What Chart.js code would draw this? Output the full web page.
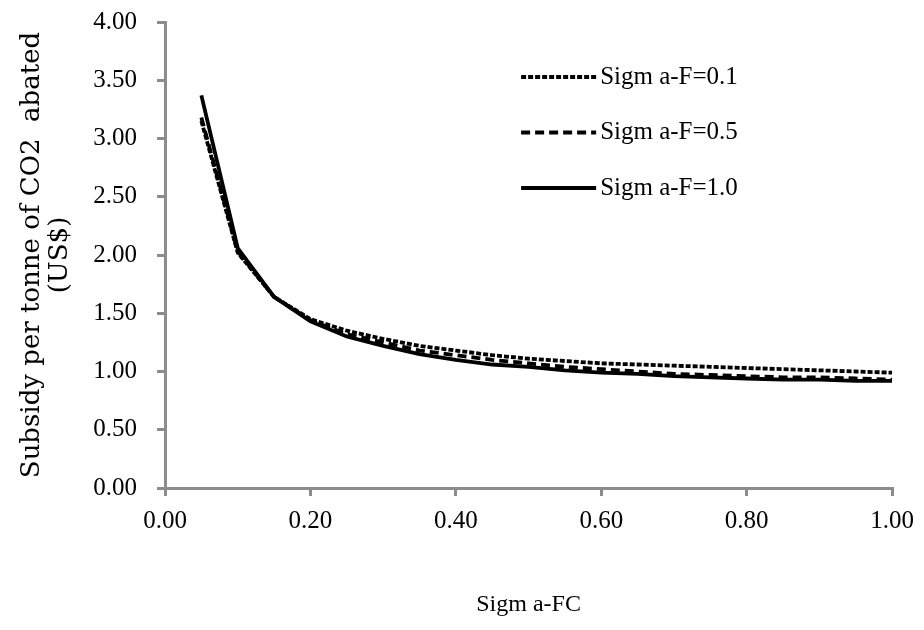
<!DOCTYPE html>
<html>
<head>
<meta charset="utf-8">
<script src="https://cdn.jsdelivr.net/npm/chart.js@4"></script>
<style>
  html, body { margin: 0; padding: 0; background: #fff; }
  #wrap { width: 924px; height: 630px; position: relative; }
</style>
</head>
<body>
<div id="wrap"><canvas id="plot1"></canvas></div>
<script>
// Sigma-FC values (x axis)
const sigmaFC = [0.05, 0.10, 0.15, 0.20, 0.25, 0.30, 0.35, 0.40, 0.45, 0.50,
                 0.55, 0.60, 0.65, 0.70, 0.75, 0.80, 0.85, 0.90, 0.95, 1.00];
// subsidy per tonne of CO2 abated (US$)
const sigmaF01 = [3.15, 2.02, 1.64, 1.45, 1.35, 1.28, 1.22, 1.18, 1.14, 1.11,
                  1.09, 1.07, 1.06, 1.05, 1.04, 1.03, 1.02, 1.01, 1.00, 0.99];
const sigmaF05 = [3.18, 2.03, 1.64, 1.44, 1.32, 1.25, 1.18, 1.14, 1.10, 1.07,
                  1.04, 1.02, 1.00, 0.98, 0.97, 0.96, 0.95, 0.95, 0.94, 0.93];
const sigmaF10 = [3.37, 2.06, 1.64, 1.43, 1.30, 1.22, 1.15, 1.10, 1.06, 1.04,
                  1.01, 0.99, 0.98, 0.96, 0.95, 0.94, 0.93, 0.93, 0.92, 0.92];
const seriesLabels = ['Sigm a-F=0.1', 'Sigm a-F=0.5', 'Sigm a-F=1.0'];

const toPoints = (ys) => sigmaFC.map((x, i) => ({ x: x, y: ys[i] }));

const axisGray = '#8c8c8c';
const serif = "'Liberation Serif', 'Times New Roman', serif";

// legend drawn inside the plot area, top right
const insideLegend = {
  id: 'insideLegend',
  afterDraw(chart) {
    const { ctx, chartArea } = chart;
    const x0 = chartArea.right - 371;
    const x1 = chartArea.right - 296;
    ctx.save();
    chart.data.datasets.forEach((ds, i) => {
      const y = chartArea.top + 55 + i * 55.5;
      ctx.beginPath();
      ctx.setLineDash(ds.borderDash || []);
      ctx.lineWidth = ds.borderWidth;
      ctx.strokeStyle = ds.borderColor;
      ctx.moveTo(x0, y);
      ctx.lineTo(x1, y);
      ctx.stroke();
      ctx.setLineDash([]);
      ctx.fillStyle = '#000';
      ctx.font = '25px ' + serif;
      ctx.textAlign = 'left';
      ctx.textBaseline = 'middle';
      ctx.fillText(ds.label, x1 + 4, y);
    });
    ctx.restore();
  }
};

window.addEventListener("DOMContentLoaded", () => {
  const ctx1 = document.getElementById('plot1')?.getContext('2d');
  if (ctx1) {
    new Chart(ctx1, {
      type: 'line',
      data: {
        datasets: [{
          label: seriesLabels[0],
          data: toPoints(sigmaF01),
          borderColor: '#000',
          borderWidth: 3.8,
          borderDash: [5, 2],
          pointRadius: 0,
          fill: false
        }, {
          label: seriesLabels[1],
          data: toPoints(sigmaF05),
          borderColor: '#000',
          borderWidth: 3.8,
          borderDash: [9, 5],
          pointRadius: 0,
          fill: false
        }, {
          label: seriesLabels[2],
          data: toPoints(sigmaF10),
          borderColor: '#000',
          borderWidth: 3.8,
          pointRadius: 0,
          fill: false
        }]
      },
      options: {
        responsive: true,
        maintainAspectRatio: false,
        animation: false,
        layout: { padding: { top: 22, right: 31, left: 0, bottom: 0 } },
        plugins: {
          legend: { display: false },
          tooltip: { enabled: false }
        },
        scales: {
          x: {
            type: 'linear',
            min: 0,
            max: 1,
            afterFit: (scale) => { scale.height = 142; },
            ticks: {
              stepSize: 0.2,
              color: '#000',
              padding: 10,
              maxRotation: 0,
              font: { family: serif, size: 25 },
              callback: (v) => Number(v).toFixed(2)
            },
            grid: { drawOnChartArea: false, color: axisGray, lineWidth: 3, tickLength: 8 },
            border: { color: axisGray, width: 3 },
            title: {
              display: true,
              text: 'Sigm a-FC',
              color: '#000',
              font: { family: serif, size: 24 },
              padding: { top: 0, bottom: 11 }
            }
          },
          y: {
            min: 0,
            max: 4,
            afterFit: (scale) => {
              scale.width = 165;
              scale.paddingTop = 0;
              scale.paddingBottom = 0;
            },
            ticks: {
              stepSize: 0.5,
              color: '#000',
              padding: 20,
              font: { family: serif, size: 25 },
              callback: (v) => Number(v).toFixed(2)
            },
            grid: { drawOnChartArea: false, color: axisGray, lineWidth: 3, tickLength: 8 },
            border: { color: axisGray, width: 3 },
            title: {
              display: true,
              text: ['Subsidy per tonne of CO2  abated', '(US$)'],
              color: '#000',
              font: { family: "'DejaVu Serif', serif", size: 26, lineHeight: 1.05 },
              padding: { top: 19, bottom: 0 }
            }
          }
        }
      },
      plugins: [insideLegend]
    });
  }
});
</script>
</body>
</html>
